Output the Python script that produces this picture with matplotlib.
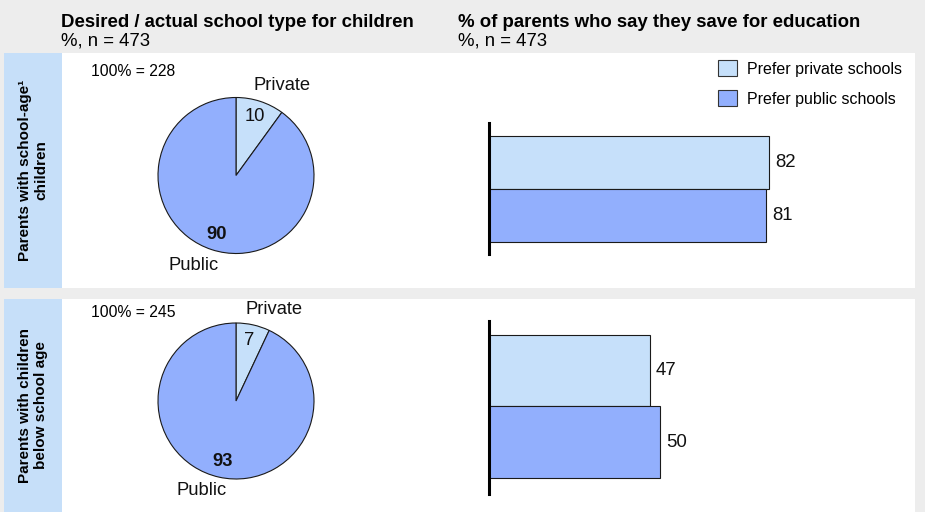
import matplotlib
matplotlib.use('Agg')
import matplotlib.pyplot as plt
from matplotlib.patches import Rectangle, Patch
import numpy as np

plt.rcParams['font.family'] = ['Liberation Sans', 'DejaVu Sans']

# ---------------- data ----------------
groups = ['Parents with school-age\u00b9\nchildren', 'Parents with children\nbelow school age']
base_n = [228, 245]
school_types = ['Private', 'Public']
school_share = [[10, 90], [7, 93]]
series = ['Prefer private schools', 'Prefer public schools']
save_share = [[82, 81], [47, 50]]
title_left = 'Desired / actual school type for children'
title_right = '% of parents who say they save for education'
subtitle = '%, n = 473'

# ---------------- style ----------------
BG = '#ededed'
LABEL_BOX = '#c6dff9'
C_PRIVATE = '#c6e0fa'
C_PUBLIC = '#92affd'
EDGE = '#1a1a1a'

W, H = 925, 512
fig = plt.figure(figsize=(W / 100, H / 100), dpi=100)
fig.patch.set_facecolor(BG)


def fx(x):
    return x / W


def fy(y):
    return 1 - y / H


def axes_px(x0, y0, x1, y1):
    return fig.add_axes([x0 / W, 1 - y1 / H, (x1 - x0) / W, (y1 - y0) / H])


rows = [(53, 288), (299, 512)]
pie_centers = [(236, 175.5), (236, 401)]
pie_r = 78
base_label_y = [72, 312.5]
bar_boxes = [(123, 254, (1.73, -0.745)), (321, 494, (1.724, -0.696))]
cat_label_pos = [[(0.59, 1.15), (-0.54, -1.15)], [(0.49, 1.17), (-0.44, -1.15)]]

# titles
fig.text(fx(61), fy(27), title_left, fontsize=13.4, fontweight='bold', va='baseline')
fig.text(fx(61), fy(46), subtitle, fontsize=13.4, va='baseline')
fig.text(fx(458), fy(27), title_right, fontsize=13.4, fontweight='bold', va='baseline')
fig.text(fx(458), fy(46), subtitle, fontsize=13.4, va='baseline')

for i, (y0, y1) in enumerate(rows):
    # panel backgrounds
    fig.add_artist(Rectangle((fx(62), fy(y1)), fx(915) - fx(62), (y1 - y0) / H,
                             transform=fig.transFigure, facecolor='white', edgecolor='none', zorder=0))
    fig.add_artist(Rectangle((fx(4), fy(y1)), fx(62) - fx(4), (y1 - y0) / H,
                             transform=fig.transFigure, facecolor=LABEL_BOX, edgecolor='none', zorder=0))
    fig.text(fx(33), fy((y0 + y1) / 2), groups[i], rotation=90, ha='center', va='center',
             fontsize=11, fontweight='bold', multialignment='center', linespacing=1.25)

    # pie
    cx, cy = pie_centers[i]
    ax = axes_px(cx - pie_r, cy - pie_r, cx + pie_r, cy + pie_r)
    vals = school_share[i]
    wedges, texts, autotexts = ax.pie(
        vals, colors=[C_PRIVATE, C_PUBLIC], startangle=90, counterclock=False,
        radius=1, autopct=lambda p: f'{p:.0f}', pctdistance=0.8,
        wedgeprops=dict(edgecolor=EDGE, linewidth=0.8),
        textprops=dict(fontsize=13.2, color='#111111'))
    autotexts[1].set_fontweight('bold')
    ax.set_xlim(-1, 1)
    ax.set_ylim(-1, 1)
    ax.set_aspect('equal')
    ax.patch.set_alpha(0)
    for t, (lx, ly) in zip(school_types, cat_label_pos[i]):
        ax.text(lx, ly, t, ha='center', va='center', fontsize=13.2, color='#111111')
    fig.text(fx(91), fy(base_label_y[i]), f'100% = {base_n[i]}',
             fontsize=11.3, va='center', ha='left')

    # bars
    by0, by1, ylim = bar_boxes[i]
    bax = axes_px(489, by0, 489 + 342, by1)
    bax.patch.set_alpha(0)
    for j, (v, c) in enumerate(zip(save_share[i], [C_PRIVATE, C_PUBLIC])):
        cont = bax.barh([j], [v], height=1.0, color=c, edgecolor=EDGE, linewidth=0.8)
        bax.bar_label(cont, labels=[str(v)], padding=4.3, fontsize=13.4, color='#111111')
    bax.set_xlim(0, 100)
    bax.set_ylim(*ylim)
    for s in ['top', 'right', 'bottom']:
        bax.spines[s].set_visible(False)
    bax.spines['left'].set_linewidth(2.2)
    bax.spines['left'].set_color('black')
    bax.set_xticks([])
    bax.set_yticks([])

handles = [Patch(facecolor=C_PRIVATE, edgecolor='#333333', linewidth=0.8, label=series[0]),
           Patch(facecolor=C_PUBLIC, edgecolor='#333333', linewidth=0.8, label=series[1])]
fig.legend(handles=handles, loc='upper left', bbox_to_anchor=(fx(718), fy(60.5)),
           frameon=False, borderpad=0, borderaxespad=0, handlelength=1.2, handleheight=1.15,
           handletextpad=0.6, labelspacing=0.85, fontsize=11.5)

fig.savefig('out.png', dpi=100, facecolor=fig.get_facecolor())
